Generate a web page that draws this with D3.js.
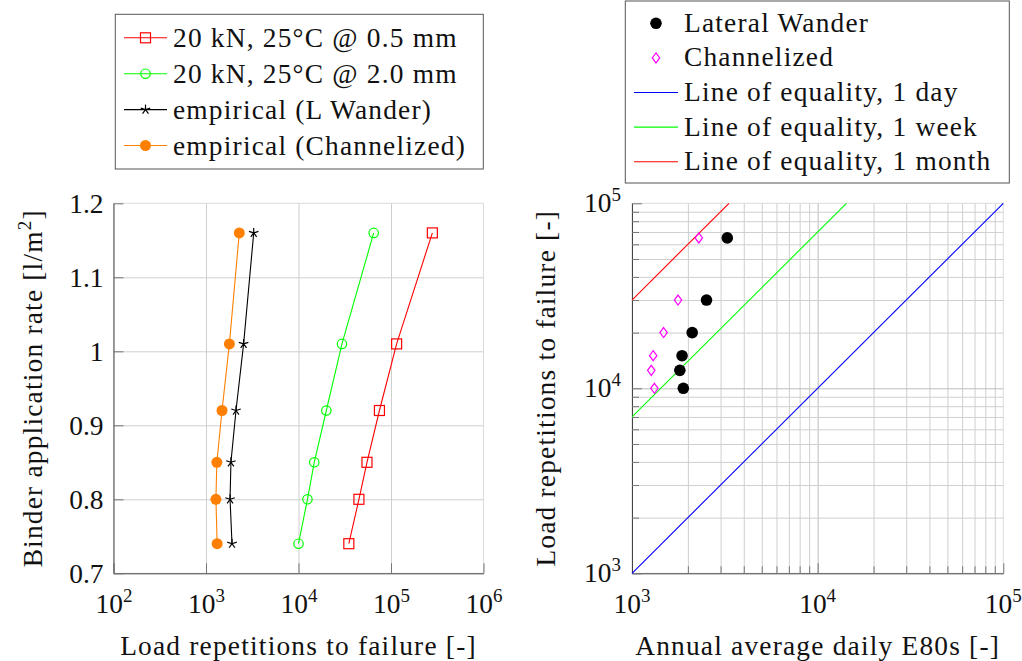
<!DOCTYPE html>
<html lang="en">
<head>
<meta charset="utf-8">
<title>Binder rate vs load repetitions</title>
<script src="https://d3js.org/d3.v7.min.js"></script>
<style>
  body { margin: 0; background: #fff; }
  text { font-family: "Liberation Serif", serif; fill: #111; letter-spacing: 1.2px; }
  .tickT { font-size: 27.4px; letter-spacing: 0; }
  .axisT { font-size: 27.4px; }
  .legendT { font-size: 27.4px; }
</style>
</head>
<body>
<div id="container"></div>
<script>
// ---- data ----
var binderRate   = [1.16, 1.01, 0.92, 0.85, 0.80, 0.74];
var rep05mm      = [2.8e5, 1.15e5, 7.5e4, 5.5e4, 4.5e4, 3.5e4];
var rep20mm      = [6.5e4, 2.95e4, 2.0e4, 1.48e4, 1.25e4, 1.0e4];
var empLWander   = [3.28e3, 2.55e3, 2.11e3, 1.86e3, 1.82e3, 1.91e3];
var empChannel   = [2.29e3, 1.79e3, 1.49e3, 1.31e3, 1.28e3, 1.32e3];

// right panel: AADT E80s (x) vs repetitions to failure (y)
var rightX_LW    = [3.26e3, 2.52e3, 2.11e3, 1.86e3, 1.81e3, 1.89e3];
var rightX_Ch    = [2.29e3, 1.77e3, 1.48e3, 1.30e3, 1.27e3, 1.32e3];
var rightY       = [6.5e4, 3.0e4, 2.0e4, 1.5e4, 1.25e4, 1.0e4];

// lines of equality (end points)
var eqDay   = [[1e3, 1e3], [1e5, 1e5]];
var eqWeek  = [[1e3, 7e3], [1.43e4, 1e5]];
var eqMonth = [[1e3, 3e4], [3.33e3, 1e5]];

var leftXTicks  = [1e2, 1e3, 1e4, 1e5, 1e6];
var leftYTicks  = [0.7, 0.8, 0.9, 1.0, 1.1, 1.2];
var leftYLabels = ['0.7', '0.8', '0.9', '1', '1.1', '1.2'];
var rightTicks  = [1e3, 1e4, 1e5];

var leftLegend  = ['20 kN, 25°C @ 0.5 mm', '20 kN, 25°C @ 2.0 mm', 'empirical (L Wander)', 'empirical (Channelized)'];
var rightLegend = ['Lateral Wander', 'Channelized', 'Line of equality, 1 day', 'Line of equality, 1 week', 'Line of equality, 1 month'];

var RED = '#ff0000', GREEN = '#00ff00', ORANGE = '#ff8000', MAGENTA = '#ff00ff', BLUE = '#0000ff';
var GRID = '#cfcfcf', GRID_MAJ = '#bdbdbd', FRAME = '#dcdcdc', AXIS = '#444';

var width = 1022, height = 661;
var svg = d3.select('#container').append('svg')
    .attr('width', width).attr('height', height);

function supText(sel, exp) {
    sel.text(null);
    sel.append('tspan').text('10');
    sel.append('tspan').attr('dy', -11).attr('font-size', 19).text(exp);
}

function drawStar(g, x, y, r) {
    for (var k = 0; k < 5; k++) {
        var a = -Math.PI / 2 + k * 2 * Math.PI / 5;
        g.append('line').attr('x1', x).attr('y1', y)
         .attr('x2', x + r * Math.cos(a)).attr('y2', y + r * Math.sin(a))
         .attr('stroke', '#000').attr('stroke-width', 1.2);
    }
}

function drawMarker(g, type, x, y) {
    if (type === 'square') {
        g.append('rect').attr('x', x - 5).attr('y', y - 5).attr('width', 10).attr('height', 10)
         .attr('fill', 'none').attr('stroke', RED).attr('stroke-width', 1.2);
    } else if (type === 'circle') {
        g.append('circle').attr('cx', x).attr('cy', y).attr('r', 4.7)
         .attr('fill', 'none').attr('stroke', GREEN).attr('stroke-width', 1.2);
    } else if (type === 'star') {
        drawStar(g, x, y, 5);
    } else if (type === 'dot') {
        g.append('circle').attr('cx', x).attr('cy', y).attr('r', 5.5).attr('fill', ORANGE);
    } else if (type === 'bigdot') {
        g.append('circle').attr('cx', x).attr('cy', y).attr('r', 5.8).attr('fill', '#000');
    } else if (type === 'diamond') {
        g.append('path').attr('d', 'M' + x + ',' + (y - 5) + 'L' + (x + 3.7) + ',' + y + 'L' + x + ',' + (y + 5) + 'L' + (x - 3.7) + ',' + y + 'Z')
         .attr('fill', 'none').attr('stroke', MAGENTA).attr('stroke-width', 1.2);
    }
}

// ================= LEFT PANEL =================
var pL = {x: 113.5, y: 203.3, w: 370, h: 370};
var gL = svg.append('g').attr('transform', 'translate(' + pL.x + ',' + pL.y + ')');
var xL = d3.scaleLog().domain([1e2, 1e6]).range([0, pL.w]);
var yL = d3.scaleLinear().domain([0.7, 1.2]).range([pL.h, 0]);

// grid
gL.append('rect').attr('width', pL.w).attr('height', pL.h).attr('fill', 'none').attr('stroke', FRAME);
gL.append('g').call(d3.axisBottom(xL).tickValues(leftXTicks.slice(1, -1)).tickSize(pL.h).tickFormat(''))
  .call(g => g.select('.domain').remove())
  .call(g => g.selectAll('line').attr('stroke', GRID));
gL.append('g').call(d3.axisLeft(yL).tickValues(leftYTicks.slice(1, -1)).tickSize(-pL.w).tickFormat(''))
  .call(g => g.select('.domain').remove())
  .call(g => g.selectAll('line').attr('stroke', GRID));

// axes with inner ticks
var axLx = gL.append('g').attr('transform', 'translate(0,' + pL.h + ')')
  .call(d3.axisBottom(xL).tickValues(leftXTicks).tickSizeInner(-10).tickSizeOuter(0));
axLx.select('.domain').attr('stroke', AXIS);
axLx.selectAll('.tick line').attr('stroke', '#777');
axLx.selectAll('.tick text').attr('class', 'tickT').attr('fill', '#111')
  .attr('y', 40).attr('dy', null)
  .each(function(d) { supText(d3.select(this), Math.round(Math.log10(d))); });

var axLy = gL.append('g')
  .call(d3.axisLeft(yL).tickValues(leftYTicks).tickSizeInner(-10).tickSizeOuter(0).tickPadding(10)
        .tickFormat((d, i) => leftYLabels[i]));
axLy.select('.domain').attr('stroke', AXIS);
axLy.selectAll('.tick line').attr('stroke', '#777');
axLy.selectAll('.tick text').attr('class', 'tickT').attr('fill', '#111');

// series
var leftSeries = [
    {x: rep05mm, color: RED, marker: 'square'},
    {x: rep20mm, color: GREEN, marker: 'circle'},
    {x: empLWander, color: '#000', marker: 'star'},
    {x: empChannel, color: ORANGE, marker: 'dot'}
];
var lineL = d3.line().x(d => xL(d[0])).y(d => yL(d[1]));
leftSeries.forEach(function(s) {
    var pts = s.x.map((v, i) => [v, binderRate[i]]);
    gL.append('path').attr('d', lineL(pts)).attr('fill', 'none')
      .attr('stroke', s.color).attr('stroke-width', 1.1);
    var mg = gL.append('g');
    pts.forEach(p => drawMarker(mg, s.marker, xL(p[0]), yL(p[1])));
});

gL.append('text').attr('class', 'axisT')
  .attr('x', pL.w / 2).attr('y', 452).attr('text-anchor', 'middle')
  .text('Load repetitions to failure [-]');
var yt = gL.append('text').attr('class', 'axisT').attr('text-anchor', 'middle')
  .attr('transform', 'translate(' + (42 - pL.x) + ',' + (pL.h / 2) + ') rotate(-90)');
yt.append('tspan').text('Binder application rate [l/m');
yt.append('tspan').attr('dy', -11).attr('font-size', 19).text('2');
yt.append('tspan').attr('dy', 11).text(']');

// left legend
var lgL = svg.append('g');
lgL.append('rect').attr('x', 115.3).attr('y', 14.3).attr('width', 368).attr('height', 154.7)
   .attr('fill', '#fff').attr('stroke', '#555').attr('stroke-width', 1);
leftLegend.forEach(function(name, i) {
    var cy = 37.8 + i * 35.9;
    var s = leftSeries[i];
    lgL.append('line').attr('x1', 124).attr('x2', 167).attr('y1', cy).attr('y2', cy)
       .attr('stroke', s.color).attr('stroke-width', 1.1);
    drawMarker(lgL, s.marker, 145.5, cy);
    lgL.append('text').attr('class', 'legendT').attr('x', 173).attr('y', cy + 9).text(name);
});

// ================= RIGHT PANEL =================
var pR = {x: 632, y: 203.3, w: 371.3, h: 370};
var gR = svg.append('g').attr('transform', 'translate(' + pR.x + ',' + pR.y + ')');
var xR = d3.scaleLog().domain([1e3, 1e5]).range([0, pR.w]);
var yR = d3.scaleLog().domain([1e3, 1e5]).range([pR.h, 0]);
var minorX = xR.ticks(), minorY = yR.ticks();

gR.append('rect').attr('width', pR.w).attr('height', pR.h).attr('fill', 'none').attr('stroke', FRAME);
gR.append('g').call(d3.axisBottom(xR).tickValues(minorX.slice(1, -1)).tickSize(pR.h).tickFormat(''))
  .call(g => g.select('.domain').remove())
  .call(g => g.selectAll('line').attr('stroke', d => rightTicks.indexOf(d) >= 0 ? GRID_MAJ : GRID));
gR.append('g').call(d3.axisLeft(yR).tickValues(minorY.slice(1, -1)).tickSize(-pR.w).tickFormat(''))
  .call(g => g.select('.domain').remove())
  .call(g => g.selectAll('line').attr('stroke', d => rightTicks.indexOf(d) >= 0 ? GRID_MAJ : GRID));

// inner ticks
var axRx = gR.append('g').attr('transform', 'translate(0,' + pR.h + ')')
  .call(d3.axisBottom(xR).tickValues(minorX).tickSizeOuter(0).tickFormat(''));
axRx.select('.domain').attr('stroke', AXIS);
axRx.selectAll('.tick line').attr('stroke', '#777')
  .attr('y2', d => rightTicks.indexOf(d) >= 0 ? -10 : -7);
var axRy = gR.append('g')
  .call(d3.axisLeft(yR).tickValues(minorY).tickSizeOuter(0).tickFormat(''));
axRy.select('.domain').attr('stroke', AXIS);
axRy.selectAll('.tick line').attr('stroke', '#777')
  .attr('x2', d => rightTicks.indexOf(d) >= 0 ? 10 : 7);

// tick labels
gR.append('g').selectAll('text').data(rightTicks).join('text')
  .attr('class', 'tickT').attr('text-anchor', 'middle')
  .attr('x', d => xR(d)).attr('y', pR.h + 40)
  .each(function(d) { supText(d3.select(this), Math.round(Math.log10(d))); });
gR.append('g').selectAll('text').data(rightTicks).join('text')
  .attr('class', 'tickT').attr('text-anchor', 'end')
  .attr('x', -11).attr('y', d => yR(d) + 9)
  .each(function(d) { supText(d3.select(this), Math.round(Math.log10(d))); });

// equality lines
var lineR = d3.line().x(d => xR(d[0])).y(d => yR(d[1]));
[[eqDay, BLUE], [eqWeek, GREEN], [eqMonth, RED]].forEach(function(e) {
    gR.append('path').attr('d', lineR(e[0])).attr('fill', 'none')
      .attr('stroke', e[1]).attr('stroke-width', 1.1);
});

// scatter
var mR = gR.append('g');
rightX_LW.forEach((v, i) => drawMarker(mR, 'bigdot', xR(v), yR(rightY[i])));
rightX_Ch.forEach((v, i) => drawMarker(mR, 'diamond', xR(v), yR(rightY[i])));

gR.append('text').attr('class', 'axisT')
  .attr('x', pR.w / 2).attr('y', 452).attr('text-anchor', 'middle')
  .text('Annual average daily E80s [-]');
gR.append('text').attr('class', 'axisT').attr('text-anchor', 'middle')
  .attr('transform', 'translate(' + (555 - pR.x) + ',' + (pR.h / 2) + ') rotate(-90)')
  .text('Load repetitions to failure [-]');

// right legend
var lgR = svg.append('g');
lgR.append('rect').attr('x', 625.3).attr('y', 1).attr('width', 384).attr('height', 182)
   .attr('fill', '#fff').attr('stroke', '#555').attr('stroke-width', 1);
var rightKeys = [
    {marker: 'bigdot'}, {marker: 'diamond'},
    {color: BLUE}, {color: GREEN}, {color: RED}
];
rightLegend.forEach(function(name, i) {
    var cy = 23.3 + i * 34.6;
    var k = rightKeys[i];
    if (k.marker) {
        drawMarker(lgR, k.marker, 656, cy);
    } else {
        lgR.append('line').attr('x1', 634).attr('x2', 678).attr('y1', cy).attr('y2', cy)
           .attr('stroke', k.color).attr('stroke-width', 1.1);
    }
    lgR.append('text').attr('class', 'legendT').attr('x', 684).attr('y', cy + 8.5).text(name);
});
</script>
</body>
</html>
